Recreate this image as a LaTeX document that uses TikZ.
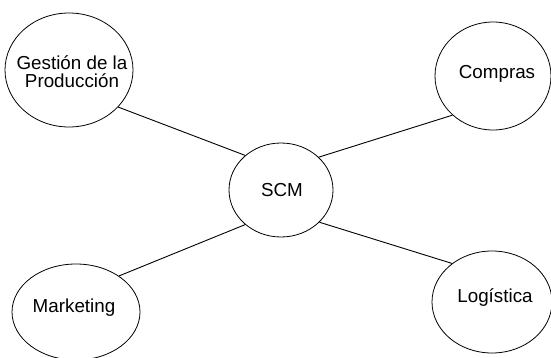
\documentclass[tikz,border=0pt]{standalone}
\usepackage{fontspec}
\setmainfont{Liberation Sans}
\usetikzlibrary{shapes.geometric}
\begin{document}
\begin{tikzpicture}[x=1pt,y=-1pt,
  bubble/.style={ellipse,draw,line width=0.8pt,inner sep=0pt},
  caption/.style={align=center,inner sep=0pt,font=\fontsize{18.8}{18.3}\selectfont},
  link/.style={line width=0.9pt}]
\useasboundingbox (0,0) rectangle (551,358);
% concept bubbles (fixed size, captions set on top)
\node[bubble,minimum width=128pt,minimum height=114pt] (gp) at (69,70) {};
\node[bubble,minimum width=116pt,minimum height=108pt] (co) at (493,76) {};
\node[bubble,minimum width=104pt,minimum height=94pt] (scm) at (281,190) {};
\node[bubble,minimum width=128pt,minimum height=96pt] (mk) at (76,312) {};
\node[bubble,minimum width=120pt,minimum height=102pt] (lo) at (492,302) {};
\node[caption] (gpt) at (72,72) {Gestión de la\\Producción};
\node[caption] (cot) at (497,74) {Compras};
\node[caption] (scmt) at (282,190) {SCM};
\node[caption] (mkt) at (74,308) {Marketing};
\node[caption] (lot) at (495,298) {Logística};
% connectors to the hub
\draw[link] (gp.-37) -- (scm.136);
\draw[link] (mk.40) -- (scm.224);
\draw[link] (scm.41) -- (co.224);
\draw[link] (scm.-40) -- (lo.136);
\end{tikzpicture}
\end{document}
